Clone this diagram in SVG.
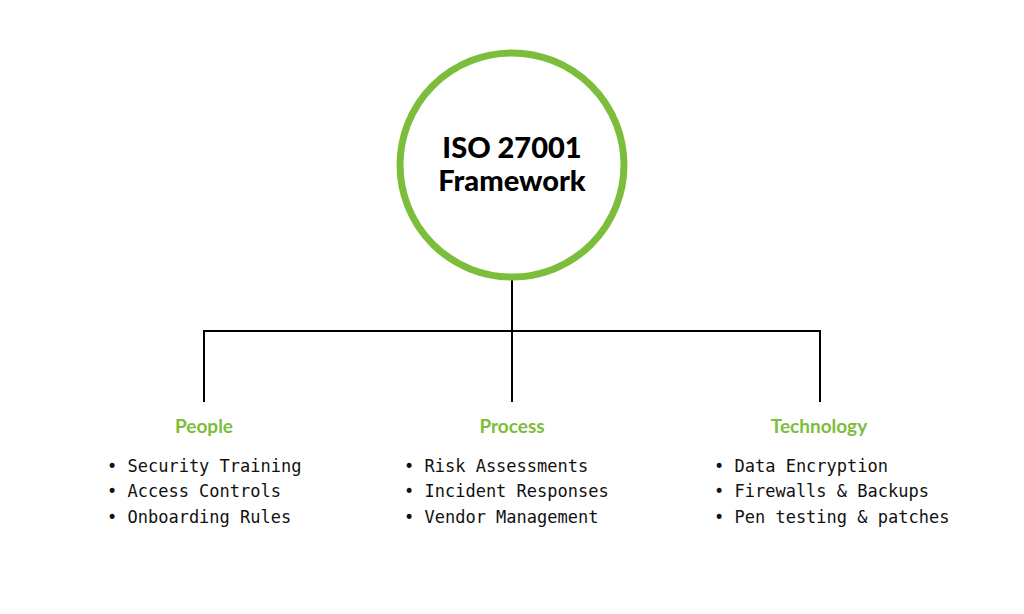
<svg xmlns="http://www.w3.org/2000/svg" width="1024" height="614" viewBox="0 0 1024 614">
<style>
.h{font-family:"Lato","Liberation Sans",sans-serif;font-weight:bold;font-size:19px;fill:#7cbd3c;text-anchor:middle}
.b{font-family:"DejaVu Sans Mono","Liberation Mono",monospace;font-size:17px;fill:#111}
.t{font-family:"Lato","Liberation Sans",sans-serif;font-weight:900;font-size:29px;fill:#000;text-anchor:middle}
.c{stroke:#000;stroke-width:2;fill:none}
</style>
<rect width="1024" height="614" fill="#fff"/>
<g id="connectors">
<path class="c" d="M512 280V331M204 402V331H820V402M512 331V402"/>
</g>
<g id="root">
<circle cx="512" cy="165" r="112" fill="#fff" stroke="#7cbd3c" stroke-width="7"/>
<text class="t" x="512" y="158">ISO 27001</text>
<text class="t" x="512" y="191">Framework</text>
</g>
<g id="people">
<text class="h" x="204" y="433">People</text>
<text class="b" x="107" y="472">• Security Training</text>
<text class="b" x="107" y="497">• Access Controls</text>
<text class="b" x="107" y="523">• Onboarding Rules</text>
</g>
<g id="process">
<text class="h" x="512" y="433">Process</text>
<text class="b" x="404" y="472">• Risk Assessments</text>
<text class="b" x="404" y="497">• Incident Responses</text>
<text class="b" x="404" y="523">• Vendor Management</text>
</g>
<g id="technology">
<text class="h" x="819" y="433">Technology</text>
<text class="b" x="714" y="472">• Data Encryption</text>
<text class="b" x="714" y="497">• Firewalls &amp; Backups</text>
<text class="b" x="714" y="523">• Pen testing &amp; patches</text>
</g>
</svg>
